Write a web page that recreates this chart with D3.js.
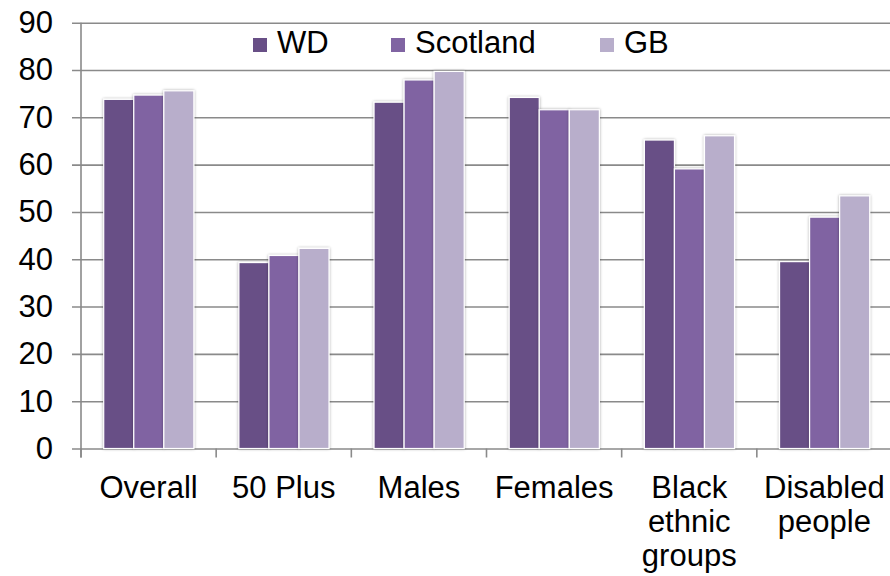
<!DOCTYPE html>
<html>
<head>
<meta charset="utf-8">
<script src="https://cdn.jsdelivr.net/npm/d3@7"></script>
<style>
  html, body { margin: 0; padding: 0; background: #fff; }
  svg { display: block; font-family: "Liberation Sans", Arial, sans-serif; }
</style>
</head>
<body>
<svg id="chart" width="890" height="576"></svg>
<script>
// ---- data ----
const categories = ["Overall", "50 Plus", "Males", "Females", "Black ethnic groups", "Disabled people"];
const categoryLines = [["Overall"], ["50 Plus"], ["Males"], ["Females"], ["Black", "ethnic", "groups"], ["Disabled", "people"]];
const seriesNames = ["WD", "Scotland", "GB"];
const wdValues = [73.8, 39.3, 73.2, 74.2, 65.2, 39.5];
const scotlandValues = [74.7, 40.8, 77.9, 71.6, 59.1, 48.9];
const gbValues = [75.6, 42.3, 79.7, 71.6, 66.1, 53.4];
const seriesColors = ["#684f86", "#8064a2", "#b8aecb"];
const yTicks = [0, 10, 20, 30, 40, 50, 60, 70, 80, 90];

const seriesValues = [wdValues, scotlandValues, gbValues];
const table = categories.map((c, i) => ({
  category: c,
  lines: categoryLines[i],
  values: seriesNames.map((s, j) => ({ series: s, value: seriesValues[j][i], color: seriesColors[j] }))
}));

const svg = d3.select("#chart");
const mLeft = 81, mRight = 892, mTop = 22.7, mBottom = 448.5;
const fontSize = 31;

const y = d3.scaleLinear().domain([0, 90]).range([mBottom, mTop]);
const x0 = d3.scaleBand().domain(categories).range([mLeft, mRight]).paddingInner(0).paddingOuter(0);
const bw = x0.bandwidth();
const x1 = d3.scaleBand().domain(seriesNames).range([bw * 0.168, bw * 0.835]).padding(0);

// shadow filter
const defs = svg.append("defs");
const f = defs.append("filter").attr("id", "shadow").attr("x", "-20%").attr("y", "-20%").attr("width", "140%").attr("height", "140%");
f.append("feGaussianBlur").attr("in", "SourceAlpha").attr("stdDeviation", 1.6).attr("result", "blur");
f.append("feComponentTransfer").attr("in", "blur").attr("result", "soft")
  .append("feFuncA").attr("type", "linear").attr("slope", 0.35);
const mg = f.append("feMerge");
mg.append("feMergeNode").attr("in", "soft");
mg.append("feMergeNode").attr("in", "SourceGraphic");

// gridlines + y ticks
const yAxis = d3.axisLeft(y).tickValues(yTicks).tickSize(-(mRight - mLeft)).tickSizeOuter(0).tickPadding(28);
const gy = svg.append("g").attr("transform", `translate(${mLeft},0)`).call(yAxis);
gy.select(".domain").remove();
gy.selectAll(".tick line").attr("x1", -9).attr("stroke", "#8a8a8a").attr("stroke-width", 1.6);
gy.selectAll(".tick text").attr("font-size", fontSize).attr("fill", "#000").attr("font-family", "Liberation Sans, Arial, sans-serif");

// vertical axis line
svg.append("line").attr("x1", mLeft).attr("x2", mLeft).attr("y1", mTop).attr("y2", mBottom + 9)
  .attr("stroke", "#8a8a8a").attr("stroke-width", 1.6);

// x ticks at band boundaries
const boundaries = categories.map(c => x0(c)).concat([mRight]);
svg.append("g").selectAll("line").data(boundaries).join("line")
  .attr("x1", d => d).attr("x2", d => d).attr("y1", mBottom).attr("y2", mBottom + 9)
  .attr("stroke", "#8a8a8a").attr("stroke-width", 1.6);

// bars
const groups = svg.append("g").selectAll("g").data(table).join("g")
  .attr("transform", d => `translate(${x0(d.category)},0)`);
groups.selectAll("rect").data(d => d.values).join("rect")
  .attr("x", d => x1(d.series))
  .attr("y", d => y(d.value))
  .attr("width", x1.bandwidth())
  .attr("height", d => y(0) - y(d.value))
  .attr("fill", d => d.color)
  .attr("stroke", "#fff")
  .attr("stroke-width", 1.2)
  .attr("filter", "url(#shadow)");

// x labels
const lab = svg.append("g").selectAll("text").data(table).join("text")
  .attr("x", d => x0(d.category) + bw / 2)
  .attr("y", 498)
  .attr("text-anchor", "middle")
  .attr("font-size", fontSize)
  .attr("fill", "#000");
lab.selectAll("tspan").data(d => d.lines).join("tspan")
  .attr("x", function() { return d3.select(this.parentNode).attr("x"); })
  .attr("dy", (d, i) => i === 0 ? 0 : 34)
  .text(d => d);

// legend
const legendX = [253, 391, 600];
const lg = svg.append("g").selectAll("g").data(seriesNames).join("g")
  .attr("transform", (d, i) => `translate(${legendX[i]},38)`);
lg.append("rect").attr("width", 14).attr("height", 14).attr("fill", (d, i) => seriesColors[i]);
lg.append("text").attr("x", 24).attr("y", 15).attr("font-size", fontSize).attr("fill", "#000").text(d => d);
</script>
</body>
</html>
